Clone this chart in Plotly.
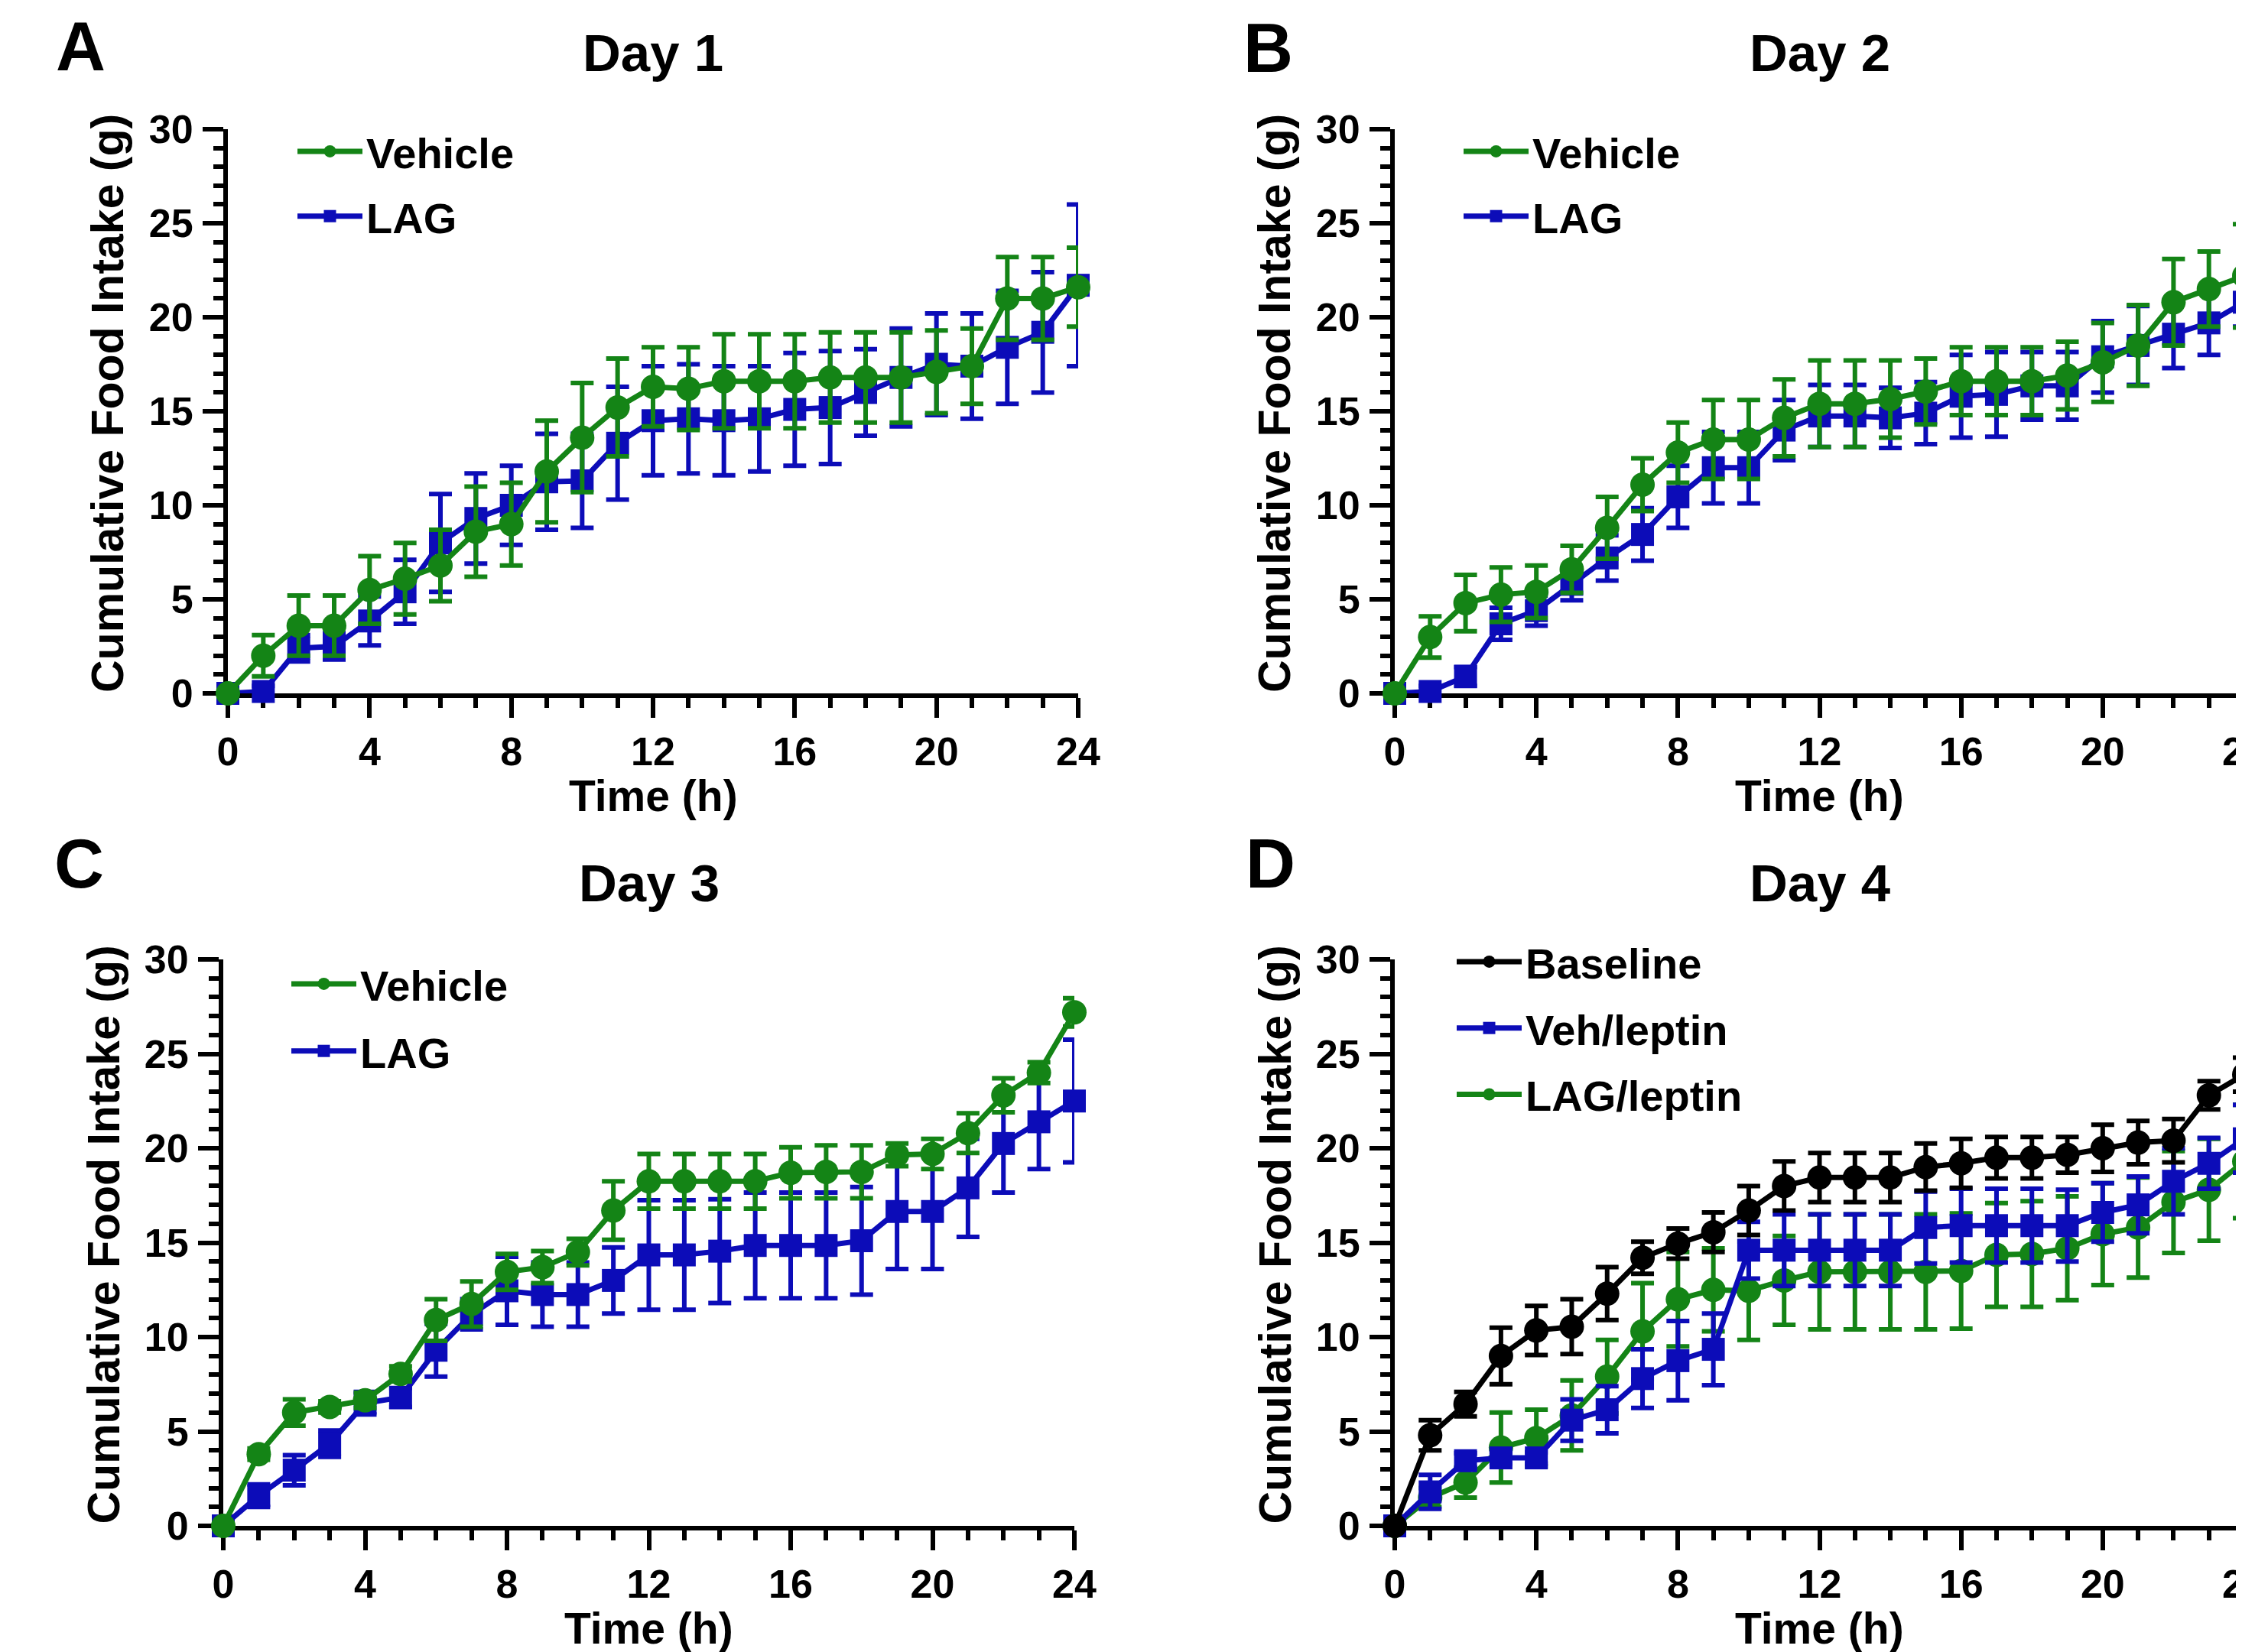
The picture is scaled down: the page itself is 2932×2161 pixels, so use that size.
import plotly.graph_objects as go

# ---------------- data ----------------
hours = list(range(25))
x_tick_vals = [0, 4, 8, 12, 16, 20, 24]
x_tick_text = ["0", "4", "8", "12", "16", "20", "24"]
y_tick_vals = [0, 5, 10, 15, 20, 25, 30]
y_tick_text = ["0", "5", "10", "15", "20", "25", "30"]

# Day 1
d1_vehicle_mean = [0, 2.0, 3.6, 3.6, 5.5, 6.1, 6.8, 8.6, 9.0, 11.8, 13.6, 15.2, 16.3, 16.2, 16.6, 16.6,
                   16.6, 16.8, 16.8, 16.8, 17.1, 17.4, 21.0, 21.0, 21.6]
d1_vehicle_sem = [0, 1.1, 1.6, 1.6, 1.8, 1.9, 1.9, 2.4, 2.2, 2.7, 2.9, 2.6, 2.1, 2.2, 2.5, 2.5,
                  2.5, 2.4, 2.4, 2.4, 2.2, 2.0, 2.2, 2.2, 2.1]
d1_lag_mean = [0, 0.1, 2.4, 2.5, 3.85, 5.4, 8.0, 9.3, 10.0, 11.25, 11.3, 13.3, 14.5, 14.6, 14.5, 14.6,
               15.1, 15.2, 16.0, 16.8, 17.5, 17.4, 18.4, 19.2, 21.7]
d1_lag_sem = [0, 0.3, 0.7, 0.7, 1.3, 1.7, 2.6, 2.4, 2.1, 2.55, 2.5, 3.0, 2.9, 2.9, 2.9, 2.8,
              3.0, 3.0, 2.3, 2.6, 2.7, 2.8, 3.0, 3.2, 4.3]

# Day 2
d2_vehicle_mean = [0, 3.0, 4.8, 5.25, 5.4, 6.6, 8.8, 11.1, 12.8, 13.5, 13.5, 14.65, 15.4, 15.4, 15.65, 16.05,
                   16.6, 16.6, 16.6, 16.9, 17.6, 18.5, 20.8, 21.5, 22.2]
d2_vehicle_sem = [0, 1.1, 1.5, 1.45, 1.4, 1.25, 1.65, 1.4, 1.6, 2.1, 2.1, 2.05, 2.3, 2.3, 2.05, 1.75,
                  1.8, 1.8, 1.8, 1.8, 2.1, 2.15, 2.3, 2.0, 2.75]
d2_lag_mean = [0, 0.1, 0.9, 3.7, 4.4, 5.8, 7.2, 8.45, 10.45, 12.0, 12.0, 14.0, 14.75, 14.75, 14.65, 14.9,
               15.8, 15.9, 16.35, 16.35, 17.9, 18.5, 19.1, 19.7, 20.8]
d2_lag_sem = [0, 0.3, 0.5, 0.85, 0.8, 0.85, 1.2, 1.4, 1.65, 1.9, 1.9, 1.6, 1.65, 1.65, 1.6, 1.65,
              2.2, 2.25, 1.8, 1.8, 1.9, 2.1, 1.8, 1.7, 1.3]

# Day 3
d3_vehicle_mean = [0, 3.8, 6.0, 6.3, 6.65, 8.05, 10.9, 11.75, 13.45, 13.7, 14.5, 16.7, 18.25, 18.25, 18.25, 18.25,
                   18.7, 18.75, 18.75, 19.65, 19.7, 20.8, 22.8, 24.0, 27.2]
d3_vehicle_sem = [0, 0.3, 0.7, 0.3, 0.4, 0.4, 1.1, 1.2, 0.95, 0.85, 0.7, 1.55, 1.45, 1.45, 1.45, 1.45,
                  1.35, 1.4, 1.4, 0.6, 0.8, 1.05, 0.9, 0.55, 0.75]
d3_lag_mean = [0, 1.6, 2.95, 4.35, 6.5, 6.8, 9.3, 11.2, 12.45, 12.25, 12.25, 13.0, 14.35, 14.35, 14.55, 14.85,
               14.85, 14.85, 15.1, 16.65, 16.65, 17.9, 20.25, 21.4, 22.5]
d3_lag_sem = [0, 0.6, 0.8, 0.7, 0.6, 0.5, 1.4, 0.8, 1.8, 1.7, 1.7, 1.75, 2.9, 2.9, 2.75, 2.8,
              2.8, 2.8, 2.85, 3.05, 3.05, 2.6, 2.6, 2.5, 3.25]

# Day 4
d4_baseline_mean = [0, 4.8, 6.45, 9.0, 10.35, 10.55, 12.3, 14.2, 14.95, 15.55, 16.7, 18.0, 18.45, 18.45, 18.45, 19.0,
                    19.2, 19.5, 19.5, 19.65, 20.0, 20.3, 20.4, 22.8, 23.9]
d4_baseline_sem = [0, 0.8, 0.65, 1.5, 1.3, 1.45, 1.4, 0.85, 0.8, 1.05, 1.3, 1.3, 1.3, 1.3, 1.3, 1.25,
                   1.3, 1.1, 1.1, 0.95, 1.25, 1.15, 1.15, 0.75, 0.9]
d4_vehlep_mean = [0, 1.8, 3.45, 3.6, 3.6, 5.6, 6.15, 7.8, 8.75, 9.35, 14.6, 14.6, 14.6, 14.6, 14.6, 15.8,
                  15.9, 15.9, 15.9, 15.9, 16.6, 17.0, 18.25, 19.2, 20.5]
d4_vehlep_sem = [0, 0.9, 0.4, 0.3, 0.3, 1.1, 1.25, 1.55, 2.1, 1.9, 1.5, 1.9, 1.9, 1.9, 1.9, 1.9,
                 1.95, 1.95, 1.95, 1.9, 1.55, 1.5, 1.75, 1.35, 1.8]
d4_laglep_mean = [0, 1.5, 2.3, 4.15, 4.65, 5.85, 7.9, 10.3, 12.0, 12.5, 12.45, 13.0, 13.45, 13.45, 13.45, 13.45,
                  13.5, 14.35, 14.4, 14.7, 15.45, 15.8, 17.15, 17.8, 19.3]
d4_laglep_sem = [0, 0.5, 0.8, 1.85, 1.5, 1.85, 1.95, 2.55, 2.5, 2.2, 2.6, 2.35, 3.05, 3.05, 3.05, 3.05,
                 3.05, 2.75, 2.8, 2.75, 2.7, 2.65, 2.7, 2.7, 3.0]

panel_letters = ["A", "B", "C", "D"]
panel_titles = ["Day 1", "Day 2", "Day 3", "Day 4"]
x_title = "Time (h)"
y_title = "Cumulative Food Intake (g)"

# ---------------- style ----------------
W, H = 2932, 2161
FONT = "Arial, Liberation Sans, Helvetica, sans-serif"
GREEN = "#148416"
BLUE = "#0c0cb8"
BLACK = "#000000"


def px_x(p):
    return p / W


def px_y(p):
    return 1 - p / H


# plot-area pixel boxes (x at t=0, x at t=24, y at 30, y at 0)
boxes = {
    "A": (290, 1402, 161, 899),
    "B": (1816, 2927, 161, 899),
    "C": (284, 1397, 1247, 1988),
    "D": (1816, 2927, 1247, 1988),
}

fig = go.Figure()


def add_series(panel_idx, name, mean, sem, color, symbol, rank):
    suffix = "" if panel_idx == 1 else str(panel_idx)
    fig.add_trace(go.Scatter(
        x=hours, y=mean,
        mode="lines+markers",
        name=name,
        line=dict(color=color, width=7),
        marker=dict(symbol=symbol, size=32 if symbol == "circle" else 30, color=color,
                    line=dict(width=0)),
        error_y=dict(type="data", array=sem, visible=True, color=color, thickness=6, width=15),
        xaxis="x" + suffix, yaxis="y" + suffix,
        legend="legend" + suffix,
        legendgroup=f"p{panel_idx}_{name}",
        legendrank=rank,
        cliponaxis=False,
        hoverinfo="x+y+name",
    ))


# panel A/B/C: LAG drawn first, Vehicle on top
add_series(1, "LAG", d1_lag_mean, d1_lag_sem, BLUE, "square", 2)
add_series(1, "Vehicle", d1_vehicle_mean, d1_vehicle_sem, GREEN, "circle", 1)
add_series(2, "LAG", d2_lag_mean, d2_lag_sem, BLUE, "square", 2)
add_series(2, "Vehicle", d2_vehicle_mean, d2_vehicle_sem, GREEN, "circle", 1)
add_series(3, "LAG", d3_lag_mean, d3_lag_sem, BLUE, "square", 2)
add_series(3, "Vehicle", d3_vehicle_mean, d3_vehicle_sem, GREEN, "circle", 1)
add_series(4, "LAG/leptin", d4_laglep_mean, d4_laglep_sem, GREEN, "circle", 3)
add_series(4, "Veh/leptin", d4_vehlep_mean, d4_vehlep_sem, BLUE, "square", 2)
add_series(4, "Baseline", d4_baseline_mean, d4_baseline_sem, BLACK, "circle", 1)

layout = dict(
    width=W, height=H, autosize=False,
    margin=dict(l=0, r=0, t=0, b=0, pad=0),
    paper_bgcolor="white", plot_bgcolor="white",
    font=dict(family=FONT, color="black", weight="bold"),
    showlegend=True,
)

tick_font = dict(family=FONT, size=52, color="black", weight="bold")
ITEMW = 85
# left edge of legend text in reference pixels, and top of legend box
legend_pos = {
    "A": (481 - ITEMW - 20, 147),
    "B": (2006 - ITEMW - 20, 147),
    "C": (473 - ITEMW - 20, 1236),
    "D": (1997 - ITEMW - 20, 1207),
}
legend_gap = {"A": 9, "B": 9, "C": 12, "D": 11}

annotations = []
for i, key in enumerate(["A", "B", "C", "D"], start=1):
    x0, x1, yt, yb = boxes[key]
    suffix = "" if i == 1 else str(i)
    layout["xaxis" + suffix] = dict(
        domain=[px_x(x0), px_x(x1)], range=[0, 24], anchor="y" + suffix,
        showline=True, linewidth=6, linecolor="black", mirror=False,
        showgrid=False, zeroline=False, layer="below traces",
        tickmode="array", tickvals=x_tick_vals, ticktext=x_tick_text,
        ticks="outside", ticklen=26, tickwidth=6, tickcolor="black",
        minor=dict(dtick=1, tick0=0, ticks="outside", ticklen=13, tickwidth=6, tickcolor="black",
                   showgrid=False),
        tickfont=tick_font, ticklabelstandoff=0, ticklabeloverflow="allow",
        automargin=False, fixedrange=True,
    )
    layout["yaxis" + suffix] = dict(
        domain=[px_y(yb), px_y(yt)], range=[0, 30], anchor="x" + suffix,
        showline=True, linewidth=6, linecolor="black", mirror=False,
        showgrid=False, zeroline=False, layer="below traces",
        tickmode="array", tickvals=y_tick_vals, ticktext=y_tick_text,
        ticks="outside", ticklen=27, tickwidth=6, tickcolor="black",
        minor=dict(dtick=1, tick0=0, ticks="outside", ticklen=13, tickwidth=6, tickcolor="black",
                   showgrid=False),
        tickfont=tick_font, ticklabelstandoff=2, automargin=False, fixedrange=True,
    )
    lx, ly = legend_pos[key]
    layout["legend" + suffix] = dict(
        x=px_x(lx), y=px_y(ly), xanchor="left", yanchor="top",
        xref="paper", yref="paper",
        font=dict(family=FONT, size=56, color="black", weight="bold"),
        bgcolor="rgba(0,0,0,0)", borderwidth=0,
        itemwidth=ITEMW, tracegroupgap=legend_gap[key], traceorder="grouped",
    )
    cx = (x0 + x1) / 2
    cy = (yt + yb) / 2
    # panel title
    annotations.append(dict(text=panel_titles[i - 1], xref="paper", yref="paper",
                            x=px_x(cx), y=px_y(yt - 100), xanchor="center", yanchor="middle",
                            showarrow=False, font=dict(family=FONT, size=69, color="black", weight="bold")))
    # x axis title
    annotations.append(dict(text=x_title, xref="paper", yref="paper",
                            x=px_x(cx), y=px_y(yb + 134), xanchor="center", yanchor="middle",
                            showarrow=False, font=dict(family=FONT, size=57, color="black", weight="bold")))
    # y axis title
    annotations.append(dict(text=y_title, xref="paper", yref="paper",
                            x=px_x(x0 - 157), y=px_y(cy - 10), xanchor="center", yanchor="middle",
                            textangle=-90, showarrow=False,
                            font=dict(family=FONT, size=59, color="black", weight="bold")))

letter_pos = {"A": (97, 53), "B": (1650, 55), "C": (95, 1122), "D": (1653, 1122)}
for key in panel_letters:
    lx, ly = letter_pos[key]
    annotations.append(dict(text=key, xref="paper", yref="paper",
                            x=px_x(lx), y=px_y(ly), xanchor="center", yanchor="middle",
                            showarrow=False, font=dict(family=FONT, size=90, color="black", weight="bold")))

layout["annotations"] = annotations
fig.update_layout(**layout)

fig.write_html("out.html", include_plotlyjs=True, config={"displayModeBar": False})
